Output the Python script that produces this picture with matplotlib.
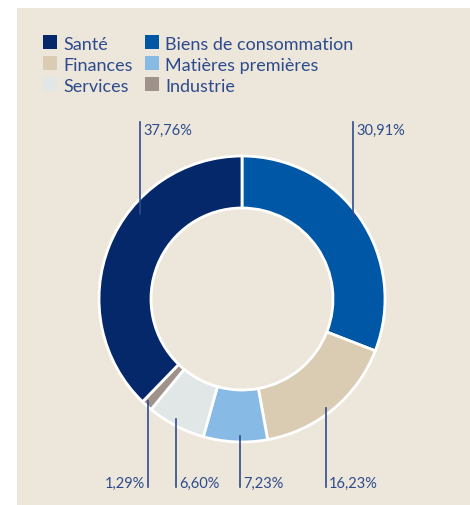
import matplotlib.pyplot as plt
from matplotlib.patches import Rectangle

# data
sectors = ['Biens de consommation', 'Finances', 'Matières premières',
           'Services', 'Industrie', 'Santé']
values = [30.91, 16.23, 7.23, 6.60, 1.29, 37.76]
labels = ['30,91%', '16,23%', '7,23%', '6,60%', '1,29%', '37,76%']
colors = ['#0057a6', '#d9ccb2', '#87bae5', '#e1e6e6', '#9f928a', '#05286a']

legend_order = ['Santé', 'Biens de consommation', 'Finances',
                'Matières premières', 'Services', 'Industrie']

bg = '#ede7db'
txt = '#2d4b8c'
H = 506

plt.rcParams['font.family'] = ['Lato', 'DejaVu Sans']

fig = plt.figure(figsize=(4.70, 5.06), dpi=100, facecolor='white')
ax = fig.add_axes([0, 0, 1, 1])
ax.set_xlim(0, 470)
ax.set_ylim(0, H)
ax.set_aspect('equal')
ax.axis('off')

# beige panel
ax.add_patch(Rectangle((17, 0), 460, H - 9, facecolor=bg, edgecolor='none', zorder=0))

# donut
ax.pie(values, colors=colors, startangle=90, counterclock=False,
       center=(242, H - 300), radius=143, frame=True,
       wedgeprops=dict(width=52, edgecolor='white', linewidth=2))
ax.set_xlim(0, 470)
ax.set_ylim(0, H)
ax.axis('off')

# labels: (x of line, line top, line bottom, text side)
lab_pos = {
    '30,91%': (353, 123, 218, 'top'),
    '37,76%': (140, 123, 215, 'top'),
    '16,23%': (326, 409, 488, 'right'),
    '7,23%': (240, 437, 488, 'right'),
    '6,60%': (176, 420, 488, 'right'),
    '1,29%': (148, 402, 488, 'left'),
}
for lab in labels:
    x, y0, y1, side = lab_pos[lab]
    ax.plot([x, x], [H - y0, H - y1], color=txt, lw=1.2, zorder=5)
    if side == 'top':
        ax.text(x + 3, H - 135, lab, color=txt, fontsize=10.5, ha='left', va='baseline')
    elif side == 'right':
        ax.text(x + 3, H - 488, lab, color=txt, fontsize=10.5, ha='left', va='baseline')
    else:
        ax.text(x - 3, H - 488, lab, color=txt, fontsize=10.5, ha='right', va='baseline')

# legend
col_x = [43, 145]
row_y = [36, 57, 78]
for i, name in enumerate(legend_order):
    cx = col_x[i % 2]
    ry = row_y[i // 2]
    c = colors[sectors.index(name)]
    ax.add_patch(Rectangle((cx, H - ry - 14), 14, 14, facecolor=c, edgecolor='none'))
    ax.text(cx + 20, H - ry - 13.5, name, color=txt, fontsize=13, ha='left', va='baseline')

fig.savefig('out.png', dpi=100, facecolor='white')
